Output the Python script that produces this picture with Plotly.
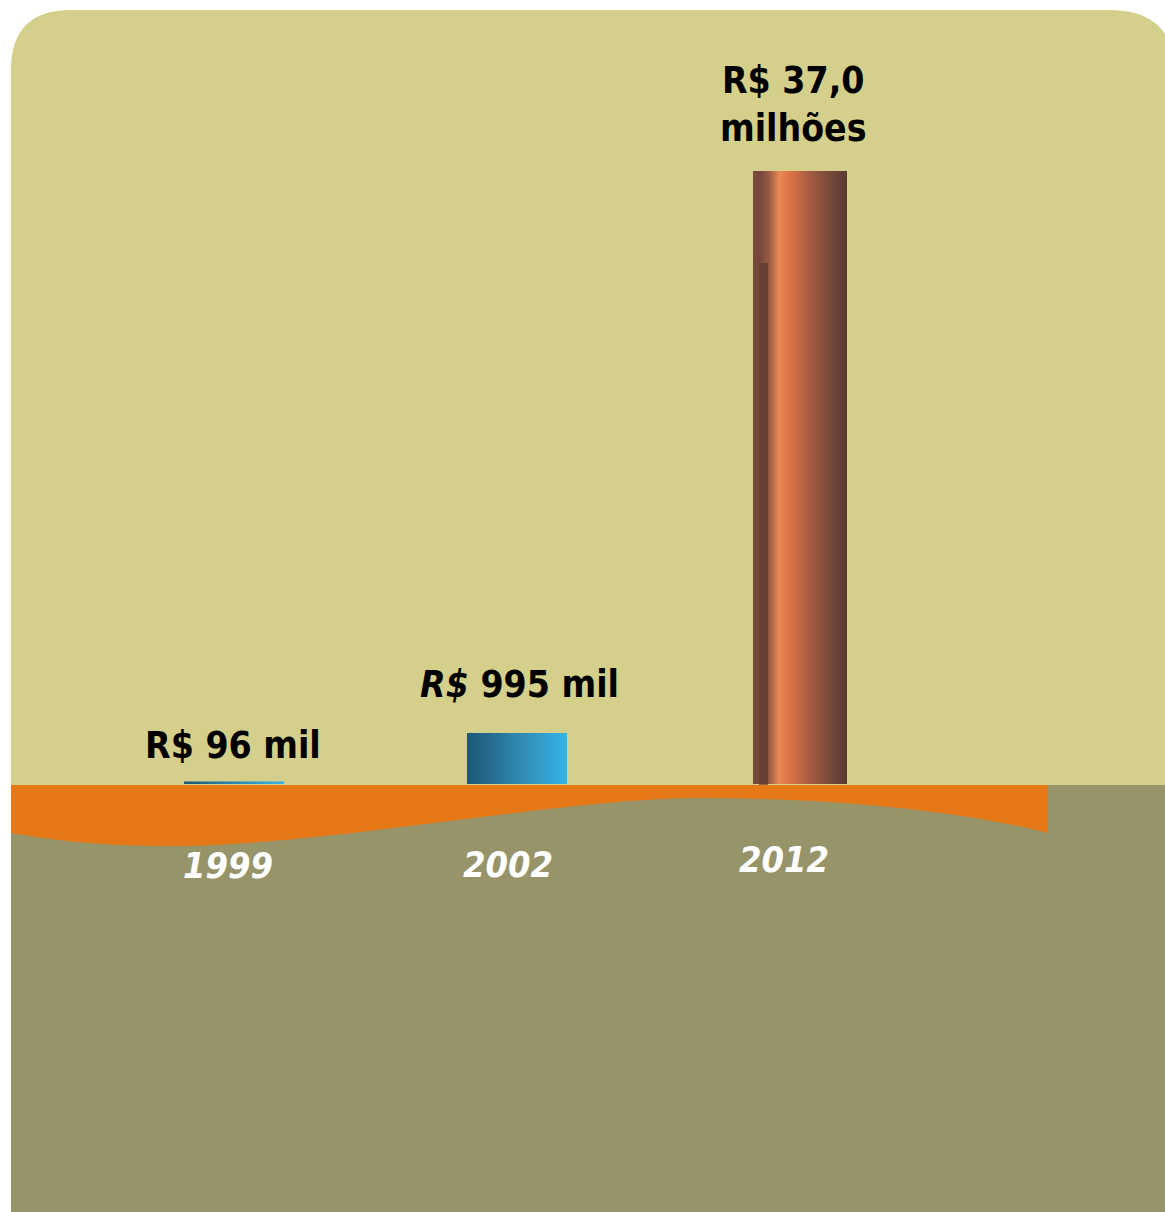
import plotly.graph_objects as go

# ---------------- data ----------------
years = ["1999", "2002", "2012"]
amount_labels = ["R$ 96 mil", "<i>R$</i> 995 mil", "R$ 37,0<br>milhões"]
# bar heights as drawn in the picture, read against the 37,0 column (in R$ millions)
bar_heights = [0.15, 3.08, 37.0]

# ---------------- layout constants ----------------
W, H = 1165, 1212
PX_PER_UNIT_X = 283.0
X0_PX = 234.0
BASE_PX = 784.0
PX_PER_UNIT_Y = 613.0 / 37.0

TAN = "#d4cf8b"
OLIVE = "#97946a"
ORANGE = "#e67818"
FONT = "DejaVu Sans Condensed, DejaVu Sans, sans-serif"

bar_widths_px = [100, 100, 94]
bar_scales = [
    [[0, "#1b5676"], [1, "#36b4ea"]],
    [[0, "#1b5676"], [0.5, "#2f86ad"], [1, "#36b4ea"]],
    [[0, "#7a4a3c"], [0.07, "#74463a"], [0.17, "#9a5a42"], [0.28, "#e88a58"],
     [0.4, "#dc7244"], [0.6, "#a65c42"], [0.8, "#7a4a3a"], [1, "#5a3a30"]],
]
label_yshift = [36, 48, 67]
label_xshift = [-1, 2, -7]
year_xshift = [-6, -9, -16]
year_yshift = [-81, -80, -75]


def px(x, y):
    """reference-image pixel -> paper coords"""
    return f"{x / W:.5f},{1 - y / H:.5f}"


fig = go.Figure()

for i, (yr, h) in enumerate(zip(years, bar_heights)):
    hw = bar_widths_px[i] / PX_PER_UNIT_X / 2
    xs = [i - hw, i + hw, i + hw, i - hw, i - hw]
    ys = [0, 0, h, h, 0]
    fig.add_trace(go.Scatter(
        x=xs, y=ys, mode="lines", fill="toself",
        fillgradient=dict(type="horizontal", colorscale=bar_scales[i]),
        line=dict(width=0), hoverinfo="skip", showlegend=False, name=yr,
    ))

shapes = []
# tan panel with rounded top corners
shapes.append(dict(
    type="path", xref="paper", yref="paper", layer="below",
    path=(f"M {px(11, 786)} L {px(11, 70)} Q {px(11, 10)} {px(71, 10)} "
          f"L {px(1110, 10)} Q {px(1175, 10)} {px(1175, 75)} L {px(1175, 786)} Z"),
    fillcolor=TAN, line=dict(width=0),
))
# olive lower area
shapes.append(dict(
    type="path", xref="paper", yref="paper", layer="below",
    path=f"M {px(11, 785)} L {px(1175, 785)} L {px(1175, 1220)} L {px(11, 1220)} Z",
    fillcolor=OLIVE, line=dict(width=0),
))
# orange wave band
shapes.append(dict(
    type="path", xref="paper", yref="paper", layer="above",
    path=(f"M {px(11, 785)} L {px(1048, 785)} L {px(1048, 833)} "
          f"C {px(950, 808)} {px(820, 798)} {px(700, 798)} "
          f"C {px(560, 798)} {px(330, 846)} {px(170, 846)} "
          f"C {px(90, 846)} {px(40, 838)} {px(11, 833)} Z"),
    fillcolor=ORANGE, line=dict(width=0),
))
# dark stripe on the 2012 column
i2 = 2
left = i2 - bar_widths_px[i2] / PX_PER_UNIT_X / 2
shapes.append(dict(
    type="rect", xref="x", yref="y", layer="above",
    x0=left + 6 / PX_PER_UNIT_X, x1=left + 15 / PX_PER_UNIT_X,
    y0=-0.05, y1=bar_heights[i2] * 0.85,
    fillcolor="#6a4034", line=dict(width=0),
))

annotations = []
for i, (lab, h) in enumerate(zip(amount_labels, bar_heights)):
    annotations.append(dict(
        x=i, y=h, xref="x", yref="y", text=f"<b>{lab}</b>", showarrow=False,
        yanchor="middle", xanchor="center", yshift=label_yshift[i], xshift=label_xshift[i],
        font=dict(family=FONT, size=37, color="#000000"),
    ))
for i, yr in enumerate(years):
    annotations.append(dict(
        x=i, y=0, xref="x", yref="y", text=f"<b><i>{yr}</i></b>", showarrow=False,
        yanchor="middle", xanchor="center", yshift=year_yshift[i], xshift=year_xshift[i],
        font=dict(family=FONT, size=36, color="#ffffff"),
    ))

fig.update_layout(
    width=W, height=H, margin=dict(l=0, r=0, t=0, b=0),
    paper_bgcolor="#ffffff", plot_bgcolor="rgba(0,0,0,0)",
    xaxis=dict(range=[-X0_PX / PX_PER_UNIT_X, (W - X0_PX) / PX_PER_UNIT_X], visible=False, fixedrange=True),
    yaxis=dict(range=[-(H - BASE_PX) / PX_PER_UNIT_Y, BASE_PX / PX_PER_UNIT_Y], visible=False, fixedrange=True),
    shapes=shapes, annotations=annotations, showlegend=False,
)

fig.write_html(
    "out.html",
    config={"displayModeBar": False},
    post_script="document.body.style.margin='0';document.body.style.overflow='hidden';",
)
